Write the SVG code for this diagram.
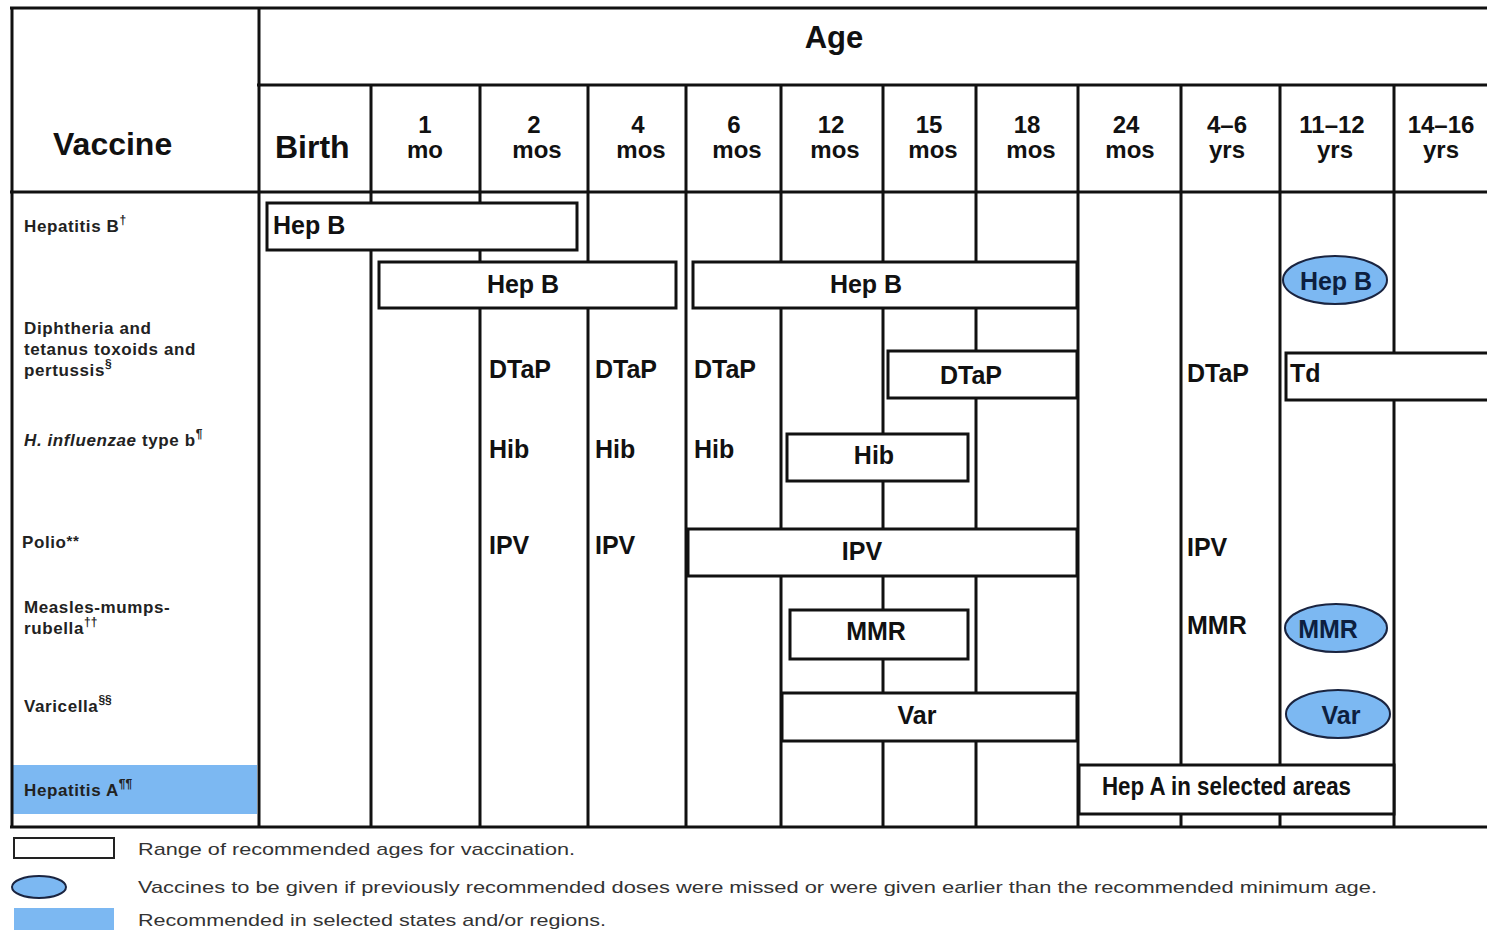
<svg xmlns="http://www.w3.org/2000/svg" width="1487" height="930" viewBox="0 0 1487 930">
<style>
.ln{stroke:#111;stroke-width:3;fill:none}
.bx{stroke:#111;stroke-width:3;fill:#fff}
.ov{stroke:#1a2440;stroke-width:2;fill:#7cb8f2}
.hd{font-family:"Liberation Sans",Arial,sans-serif;font-weight:bold;fill:#111}
.h1{font-size:32px}
.h2{font-size:24px;text-anchor:middle}
.rl{font-family:"Liberation Sans",Arial,sans-serif;font-weight:bold;font-size:17px;letter-spacing:0.6px;fill:#222}
.sp{font-size:12px;letter-spacing:0}
.ct{font-family:"Liberation Sans",Arial,sans-serif;font-weight:bold;font-size:25px;fill:#111}
.mid{text-anchor:middle}
.otx{fill:#0d1f3f}
.lg{font-family:"Liberation Sans",Arial,sans-serif;font-size:17px;fill:#333}
</style>
<rect width="1487" height="930" fill="#fff"/>
<g id="hepA-band"><rect x="13" y="765" width="244" height="49" fill="#7cb8f2"/></g>
<g id="grid">
<line class="ln" x1="10" y1="8" x2="1487" y2="8"/>
<line class="ln" x1="12" y1="8" x2="12" y2="827"/>
<line class="ln" x1="10" y1="827" x2="1487" y2="827"/>
<line class="ln" x1="259" y1="8" x2="259" y2="827"/>
<line class="ln" x1="257" y1="85" x2="1487" y2="85"/>
<line class="ln" x1="10" y1="192" x2="1487" y2="192"/>
<line class="ln" x1="371" y1="85" x2="371" y2="827"/>
<line class="ln" x1="480" y1="85" x2="480" y2="827"/>
<line class="ln" x1="588" y1="85" x2="588" y2="827"/>
<line class="ln" x1="686" y1="85" x2="686" y2="827"/>
<line class="ln" x1="781" y1="85" x2="781" y2="827"/>
<line class="ln" x1="883" y1="85" x2="883" y2="827"/>
<line class="ln" x1="976" y1="85" x2="976" y2="827"/>
<line class="ln" x1="1078" y1="85" x2="1078" y2="827"/>
<line class="ln" x1="1181" y1="85" x2="1181" y2="827"/>
<line class="ln" x1="1280" y1="85" x2="1280" y2="827"/>
<line class="ln" x1="1394" y1="85" x2="1394" y2="827"/>
</g>
<g id="header">
<text class="hd" x="834" y="48" text-anchor="middle" font-size="31">Age</text>
<text class="hd h1" x="53" y="155">Vaccine</text>
<text class="hd h1" x="275" y="158">Birth</text>
<text class="hd h2" x="425" y="133">1</text><text class="hd h2" x="425" y="158">mo</text>
<text class="hd h2" x="534" y="133">2</text><text class="hd h2" x="537" y="158">mos</text>
<text class="hd h2" x="638" y="133">4</text><text class="hd h2" x="641" y="158">mos</text>
<text class="hd h2" x="734" y="133">6</text><text class="hd h2" x="737" y="158">mos</text>
<text class="hd h2" x="831" y="133">12</text><text class="hd h2" x="835" y="158">mos</text>
<text class="hd h2" x="929" y="133">15</text><text class="hd h2" x="933" y="158">mos</text>
<text class="hd h2" x="1027" y="133">18</text><text class="hd h2" x="1031" y="158">mos</text>
<text class="hd h2" x="1126" y="133">24</text><text class="hd h2" x="1130" y="158">mos</text>
<text class="hd h2" x="1227" y="133">4–6</text><text class="hd h2" x="1227" y="158">yrs</text>
<text class="hd h2" x="1332" y="133">11–12</text><text class="hd h2" x="1335" y="158">yrs</text>
<text class="hd h2" x="1441" y="133">14–16</text><text class="hd h2" x="1441" y="158">yrs</text>
</g>
<g id="row-labels">
<text class="rl" x="24" y="232">Hepatitis B<tspan class="sp" dy="-8">†</tspan></text>
<text class="rl" x="24" y="334">Diphtheria and</text>
<text class="rl" x="24" y="355">tetanus toxoids and</text>
<text class="rl" x="24" y="376">pertussis<tspan class="sp" dy="-8">§</tspan></text>
<text class="rl" x="24" y="446"><tspan font-style="italic">H. influenzae</tspan> type b<tspan class="sp" dy="-8">¶</tspan></text>
<text class="rl" x="22" y="548">Polio<tspan dy="-2" style="font-size:15px">**</tspan></text>
<text class="rl" x="24" y="613">Measles-mumps-</text>
<text class="rl" x="24" y="634">rubella<tspan class="sp" dy="-8">††</tspan></text>
<text class="rl" x="24" y="712">Varicella<tspan class="sp" dy="-8">§§</tspan></text>
<text class="rl" x="24" y="796">Hepatitis A<tspan class="sp" dy="-8">¶¶</tspan></text>
</g>
<g id="hepb-1"><rect class="bx" x="267" y="203" width="310" height="47"/><text class="ct" x="273" y="234">Hep B</text></g>
<g id="hepb-2"><rect class="bx" x="379" y="262" width="297" height="46"/><text class="ct mid" x="523" y="293">Hep B</text></g>
<g id="hepb-3"><rect class="bx" x="693" y="262" width="384" height="46"/><text class="ct mid" x="866" y="293">Hep B</text></g>
<g id="hepb-catchup"><ellipse class="ov" cx="1335" cy="280" rx="52" ry="24"/><text class="ct mid otx" x="1336" y="290">Hep B</text></g>
<g id="dtap-2"><text class="ct" x="489" y="378">DTaP</text></g>
<g id="dtap-4"><text class="ct" x="595" y="378">DTaP</text></g>
<g id="dtap-6"><text class="ct" x="694" y="378">DTaP</text></g>
<g id="dtap-15"><rect class="bx" x="888" y="351" width="189" height="47"/><text class="ct mid" x="971" y="384">DTaP</text></g>
<g id="dtap-4y"><text class="ct" x="1187" y="382">DTaP</text></g>
<g id="td"><rect class="bx" x="1286" y="353" width="220" height="47"/><text class="ct" x="1290" y="382">Td</text></g>
<g id="hib-2"><text class="ct" x="489" y="458">Hib</text></g>
<g id="hib-4"><text class="ct" x="595" y="458">Hib</text></g>
<g id="hib-6"><text class="ct" x="694" y="458">Hib</text></g>
<g id="hib-12"><rect class="bx" x="787" y="434" width="181" height="47"/><text class="ct mid" x="874" y="464">Hib</text></g>
<g id="ipv-2"><text class="ct" x="489" y="554">IPV</text></g>
<g id="ipv-4"><text class="ct" x="595" y="554">IPV</text></g>
<g id="ipv-6"><rect class="bx" x="688" y="529" width="389" height="47"/><text class="ct mid" x="862" y="560">IPV</text></g>
<g id="ipv-4y"><text class="ct" x="1187" y="556">IPV</text></g>
<g id="mmr-12"><rect class="bx" x="790" y="610" width="178" height="49"/><text class="ct mid" x="876" y="640">MMR</text></g>
<g id="mmr-4y"><text class="ct" x="1187" y="634">MMR</text></g>
<g id="mmr-catchup"><ellipse class="ov" cx="1336" cy="628" rx="51" ry="24"/><text class="ct mid otx" x="1328" y="638">MMR</text></g>
<g id="var-12"><rect class="bx" x="782" y="693" width="295" height="48"/><text class="ct mid" x="917" y="724">Var</text></g>
<g id="var-catchup"><ellipse class="ov" cx="1338" cy="714" rx="52" ry="24"/><text class="ct mid otx" x="1341" y="724">Var</text></g>
<g id="hepa"><rect class="bx" x="1079" y="765" width="315" height="49"/><text class="ct" x="1102" y="795" font-size="21" textLength="249" lengthAdjust="spacingAndGlyphs">Hep A in selected areas</text></g>
<g id="legend">
<rect x="14" y="838" width="100" height="20" fill="#fff" stroke="#222" stroke-width="2"/>
<text class="lg" x="138" y="855" textLength="437" lengthAdjust="spacingAndGlyphs">Range of recommended ages for vaccination.</text>
<ellipse cx="39" cy="887" rx="27" ry="11" fill="#7cb8f2" stroke="#1a2440" stroke-width="2"/>
<text class="lg" x="138" y="893" textLength="1239" lengthAdjust="spacingAndGlyphs">Vaccines to be given if previously recommended doses were missed or were given earlier than the recommended minimum age.</text>
<rect x="14" y="908" width="100" height="22" fill="#7cb8f2"/>
<text class="lg" x="138" y="926" textLength="468" lengthAdjust="spacingAndGlyphs">Recommended in selected states and/or regions.</text>
</g>
</svg>
